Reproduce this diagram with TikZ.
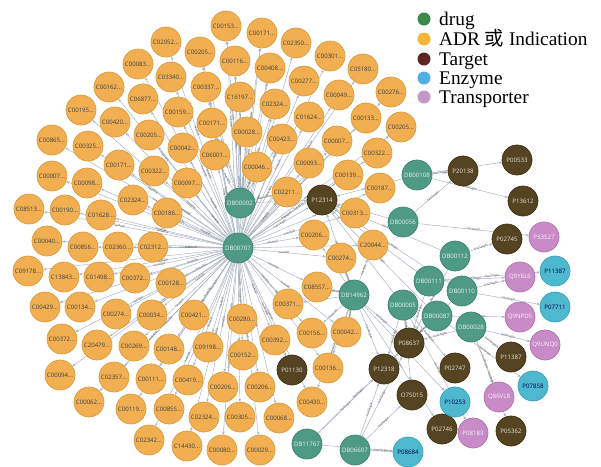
\documentclass[tikz,border=0pt]{standalone}
\usepackage{fontspec}
\setmainfont{Liberation Serif}
\newfontfamily\nodefont{Open Sans}
\newfontfamily\cjk{Noto Sans CJK SC}
\usetikzlibrary{arrows.meta,backgrounds}
\definecolor{adrfill}{HTML}{F1AF52}
\definecolor{adrline}{HTML}{D99C3F}
\definecolor{drugfill}{HTML}{4F9A84}
\definecolor{drugline}{HTML}{3F8571}
\definecolor{tgtfill}{HTML}{554421}
\definecolor{tgtline}{HTML}{3E3118}
\definecolor{enzfill}{HTML}{4DB8CE}
\definecolor{enzline}{HTML}{39A2B8}
\definecolor{trpfill}{HTML}{C98BC7}
\definecolor{trpline}{HTML}{B073AE}
\definecolor{relcol}{HTML}{A6B1C1}
\definecolor{legdrug}{HTML}{3A8A4B}
\definecolor{legadr}{HTML}{F5B538}
\definecolor{legtgt}{HTML}{5E2522}
\definecolor{legenz}{HTML}{4FAEE2}
\definecolor{legtrp}{HTML}{C497CB}

\begin{document}
\begin{tikzpicture}[x=0.03cm, y=-0.03cm,
  base/.style = {circle, minimum size=0.9cm, inner sep=0pt, line width=0.6pt, font=\nodefont\fontsize{5.2}{6}\selectfont},
  adr/.style = {base, draw=adrline, fill=adrfill, text=black!75},
  drug/.style = {base, draw=drugline, fill=drugfill, text=white!88!drugfill},
  target/.style = {base, draw=tgtline, fill=tgtfill, text=white!85!tgtfill},
  enzyme/.style = {base, draw=enzline, fill=enzfill, text=black!70!blue},
  transporter/.style = {base, draw=trpline, fill=trpfill, text=white!90!trpfill},
  rel/.style = {draw=relcol, line width=0.4pt, -{Stealth[length=2.6pt,width=2.2pt]}},
  lbl/.style = {sloped, inner sep=0.3pt, text=black!65, font=\nodefont\fontsize{2.6}{3}\selectfont},
  legdot/.style = {circle, minimum size=3.9mm, inner sep=0pt},
  legtext/.style = {anchor=base west, inner sep=0pt, font=\fontsize{16.5}{18}\selectfont}]
\useasboundingbox (0,0) rectangle (601,466);

% ADR / indication nodes
\node[adr] (a1) at (226,26) {C00153...};
\node[adr] (a2) at (262,33) {C00171...};
\node[adr] (a3) at (296,43) {C02350...};
\node[adr] (a4) at (330,56) {C00301...};
\node[adr] (a5) at (363,69) {C05180...};
\node[adr] (a6) at (391,92) {C00276...};
\node[adr] (a7) at (166,42) {C02052...};
\node[adr] (a8) at (200,52) {C00205...};
\node[adr] (a9) at (235,61) {C00116...};
\node[adr] (a10) at (270,68) {C00408...};
\node[adr] (a11) at (304,81) {C00277...};
\node[adr] (a12) at (339,95) {C00049...};
\node[adr] (a13) at (138,64) {C00083...};
\node[adr] (a14) at (171,77) {C03340...};
\node[adr] (a15) at (206,87) {C00337...};
\node[adr] (a16) at (240,97) {C16197...};
\node[adr] (a17) at (275,104) {C02324...};
\node[adr] (a18) at (309,117) {C01624...};
\node[adr] (a19) at (366,118) {C00133...};
\node[adr] (a20) at (401,127) {C00205...};
\node[adr] (a21) at (109,87) {C00162...};
\node[adr] (a22) at (143,99) {C06877...};
\node[adr] (a23) at (178,112) {C00159...};
\node[adr] (a24) at (212,123) {C00171...};
\node[adr] (a25) at (247,132) {C00028...};
\node[adr] (a26) at (282,139) {C00423...};
\node[adr] (a27) at (337,141) {C00007...};
\node[adr] (a28) at (377,153) {C00322...};
\node[adr] (a29) at (81,110) {C00195...};
\node[adr] (a30) at (115,122) {C00420...};
\node[adr] (a31) at (149,135) {C00205...};
\node[adr] (a32) at (183,148) {C00042...};
\node[adr] (a33) at (215,155) {C06001...};
\node[adr] (a34) at (257,167) {C00046...};
\node[adr] (a35) at (309,163) {C00093...};
\node[adr] (a36) at (348,175) {C00139...};
\node[adr] (a37) at (380,188) {C00187...};
\node[adr] (a38) at (52,140) {C00865...};
\node[adr] (a39) at (88,146) {C00325...};
\node[adr] (a40) at (119,165) {C00171...};
\node[adr] (a41) at (154,171) {C00322...};
\node[adr] (a42) at (187,183) {C00097...};
\node[adr] (a43) at (287,192) {C02211...};
\node[adr] (a44) at (355,213) {C00313...};
\node[adr] (a45) at (52,176) {C00007...};
\node[adr] (a46) at (87,183) {C00098...};
\node[adr] (a47) at (133,200) {C02324...};
\node[adr] (a48) at (167,213) {C00186...};
\node[adr] (a49) at (29,209) {C08513...};
\node[adr] (a50) at (65,210) {C00190...};
\node[adr] (a51) at (101,215) {C01628...};
\node[adr] (a52) at (314,235) {C00206...};
\node[adr] (a53) at (373,245) {C20044...};
\node[adr] (a54) at (47,241) {C00040...};
\node[adr] (a55) at (83,247) {C00856...};
\node[adr] (a56) at (118,247) {C02360...};
\node[adr] (a57) at (153,247) {C02312...};
\node[adr] (a58) at (341,258) {C00274...};
\node[adr] (a59) at (28,271) {C09178...};
\node[adr] (a60) at (64,277) {C13843...};
\node[adr] (a61) at (99,277) {C01498...};
\node[adr] (a62) at (135,278) {C00372...};
\node[adr] (a63) at (171,283) {C00128...};
\node[adr] (a64) at (317,287) {C08557...};
\node[adr] (a65) at (45,307) {C00429...};
\node[adr] (a66) at (80,307) {C00134...};
\node[adr] (a67) at (116,314) {C00274...};
\node[adr] (a68) at (152,315) {C00034...};
\node[adr] (a69) at (194,315) {C00421...};
\node[adr] (a70) at (242,319) {C00280...};
\node[adr] (a71) at (288,304) {C00371...};
\node[adr] (a72) at (346,332) {C00042...};
\node[adr] (a73) at (312,333) {C00156...};
\node[adr] (a74) at (275,340) {C00392...};
\node[adr] (a75) at (62,339) {C00372...};
\node[adr] (a76) at (97,345) {C20479...};
\node[adr] (a77) at (134,346) {C00269...};
\node[adr] (a78) at (169,349) {C00148...};
\node[adr] (a79) at (208,347) {C09198...};
\node[adr] (a80) at (243,355) {C00152...};
\node[adr] (a81) at (328,368) {C00136...};
\node[adr] (a82) at (60,375) {C00094...};
\node[adr] (a83) at (114,377) {C02357...};
\node[adr] (a84) at (151,379) {C00111...};
\node[adr] (a85) at (188,380) {C00419...};
\node[adr] (a86) at (223,387) {C00206...};
\node[adr] (a87) at (260,387) {C00206...};
\node[adr] (a88) at (312,402) {C00430...};
\node[adr] (a89) at (89,402) {C00062...};
\node[adr] (a90) at (131,409) {C00119...};
\node[adr] (a91) at (169,409) {C00855...};
\node[adr] (a92) at (204,417) {C02324...};
\node[adr] (a93) at (240,417) {C00305...};
\node[adr] (a94) at (279,418) {C00068...};
\node[adr] (a95) at (149,440) {C02342...};
\node[adr] (a96) at (187,446) {C14430...};
\node[adr] (a97) at (222,450) {C00080...};
\node[adr] (a98) at (260,450) {C00029...};

% drugs
\node[drug] (d707) at (238,248) {DB00707};
\node[drug] (d002) at (240,203) {DB00002};
\node[drug] (d14962) at (354,295) {DB14962};
\node[drug] (d005) at (403,305) {DB00005};
\node[drug] (d056) at (403,222) {DB00056};
\node[drug] (d108) at (417,175) {DB00108};
\node[drug] (d112) at (455,256) {DB00112};
\node[drug] (d111) at (429,281) {DB00111};
\node[drug] (d110) at (462,291) {DB00110};
\node[drug] (d087) at (437,316) {DB00087};
\node[drug] (d028) at (471,327) {DB00028};
\node[drug] (d11767) at (307,444) {DB11767};
\node[drug] (d6607) at (355,450) {DB06607};

% targets
\node[target] (P12314) at (322,200) {P12314};
\node[target] (P20138) at (463,171) {P20138};
\node[target] (P00533) at (517,160) {P00533};
\node[target] (P13612) at (523,201) {P13612};
\node[target] (P02745) at (507,239) {P02745};
\node[target] (P11387) at (511,357) {P11387};
\node[target] (P08637) at (409,343) {P08637};
\node[target] (P02747) at (455,368) {P02747};
\node[target] (O75015) at (412,395) {O75015};
\node[target] (P02746) at (442,429) {P02746};
\node[target] (P12318) at (384,369) {P12318};
\node[target] (P01130) at (292,370) {P01130};
\node[target] (P05362) at (511,431) {P05362};

% enzymes
\node[enzyme] (E11387) at (555,271) {P11387};
\node[enzyme] (P07711) at (555,307) {P07711};
\node[enzyme] (P07858) at (533,386) {P07858};
\node[enzyme] (P10253) at (455,402) {P10253};
\node[enzyme] (P08684) at (408,452) {P08684};

% transporters
\node[transporter] (P33527) at (544,237) {P33527};
\node[transporter] (Q9Y6L6) at (520,277) {Q9Y6L6};
\node[transporter] (Q9NPD5) at (520,317) {Q9NPD5};
\node[transporter] (Q9UNQ0) at (545,345) {Q9UNQ0};
\node[transporter] (Q86VL8) at (499,397) {Q86VL8};
\node[transporter] (P08183) at (473,433) {P08183};

\begin{pgfonlayer}{background}
\foreach \n in {1,...,98}
  \draw[rel] (d707) -- node[lbl, pos={0.42+0.16*mod(\n,2)}] {hasADR} (a\n);
\foreach \n in {1,2,8,9,10,15,16,17,24,25,26,33,34,43}
  \draw[rel] (d002) -- node[lbl] {hasADR} (a\n);
\foreach \n in {52,53,58,64,71,72,73,81,88}
  \draw[rel] (d14962) -- node[lbl] {hasADR} (a\n);
\foreach \d/\t in {d707/P12314, d707/P01130, d002/P12314,
    d108/P20138, d108/P13612, d108/P00533, d108/P12314,
    d056/P20138, d056/P33527, d056/P12314,
    d112/P02745, d112/P12314, d112/P08637,
    d111/E11387, d111/Q9Y6L6, d111/P12314, d111/P08637,
    d110/Q9Y6L6, d110/P07711, d110/P12314, d110/P08637,
    d087/Q9NPD5, d087/P07858, d087/P08637, d087/P12314,
    d028/Q9UNQ0, d028/P11387, d028/Q86VL8, d028/P05362, d028/P08637,
    d005/P08637, d005/P02747, d005/P08183, d005/O75015, d005/P12318, d005/P12314,
    d14962/P12314, d14962/P08637, d14962/P12318, d14962/P02746, d14962/P10253,
    d11767/P12318, d11767/P08684, d11767/P08637,
    d6607/P12318, d6607/P08684, d6607/O75015, d6607/P08637}
  \draw[rel] (\d) -- node[lbl] {hasTarget} (\t);
\end{pgfonlayer}

% legend
\node[legdot, fill=legdrug] (k1) at (424,19) {};
\node[legdot, fill=legadr] (k2) at (424,39) {};
\node[legdot, fill=legtgt] (k3) at (424,59) {};
\node[legdot, fill=legenz] (k4) at (424,78) {};
\node[legdot, fill=legtrp] (k5) at (424,97) {};
\node[legtext] (t1) at (439,25) {drug};
\node[legtext] (t2) at (439,45) {ADR {\cjk 或} Indication};
\node[legtext] (t3) at (439,65) {Target};
\node[legtext] (t4) at (439,84) {Enzyme};
\node[legtext] (t5) at (439,103) {Transporter};
\end{tikzpicture}
\end{document}
